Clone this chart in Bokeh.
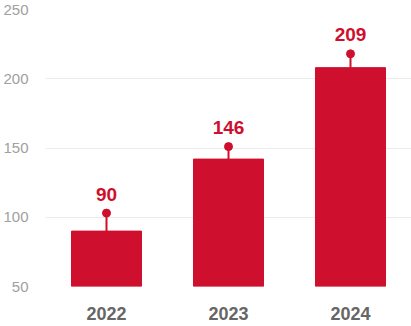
from bokeh.plotting import figure
from bokeh.models import ColumnDataSource, FactorRange, Range1d, LabelSet
from bokeh.core.properties import value
from bokeh.embed import file_html
from bokeh.resources import INLINE

years = ["2022", "2023", "2024"]
bar_values = [90, 142, 208]
pin_values = [103, 151, 218]
labels = ["90", "146", "209"]
y_ticks = [50, 100, 150, 200, 250]

RED = "#CE0F2D"
FONT = "Liberation Sans"

src = ColumnDataSource(dict(x=years, top=bar_values, pin=pin_values, label=labels,
                            base=[50] * len(years)))

p = figure(width=411, height=326, x_range=FactorRange(*years, range_padding=0),
           y_range=Range1d(50, 250), output_backend="svg", toolbar_location=None,
           min_border_left=45, min_border_right=0, min_border_top=9, min_border_bottom=40)
p.outline_line_color = None
p.background_fill_color = "white"
p.border_fill_color = "white"

p.vbar(x="x", bottom="base", top="top", width=0.574, color=RED, source=src)
p.segment(x0="x", y0="top", x1="x", y1="pin", line_color=RED, line_width=2, source=src)
p.scatter(x="x", y="pin", size=8, color=RED, source=src)
p.add_layout(LabelSet(x="x", y="pin", text="label", source=src, y_offset=19,
                      text_align="center", text_baseline="middle", text_color=RED,
                      text_font=value(FONT), text_font_size="19px", text_font_style="bold"))

p.yaxis.ticker = y_ticks
p.yaxis.axis_line_color = None
p.yaxis.major_tick_line_color = None
p.yaxis.minor_tick_line_color = None
p.yaxis.major_tick_out = 0
p.yaxis.major_tick_in = 0
p.yaxis.minor_tick_out = 0
p.yaxis.major_label_standoff = 17
p.yaxis.major_label_text_color = "#A0A0A0"
p.yaxis.major_label_text_font = FONT
p.yaxis.major_label_text_font_size = "15px"

p.xaxis.axis_line_color = None
p.xaxis.major_tick_line_color = None
p.xaxis.minor_tick_line_color = None
p.xaxis.major_tick_out = 0
p.xaxis.major_tick_in = 0
p.xaxis.minor_tick_out = 0
p.xaxis.major_label_standoff = 20
p.xaxis.major_label_text_color = "#666666"
p.xaxis.major_label_text_font = FONT
p.xaxis.major_label_text_font_size = "18px"
p.xaxis.major_label_text_font_style = "bold"

p.xgrid.grid_line_color = None
p.ygrid.grid_line_color = "#EBEBEB"
p.ygrid.grid_line_width = 1

open("out.html", "w").write(file_html(p, INLINE))
